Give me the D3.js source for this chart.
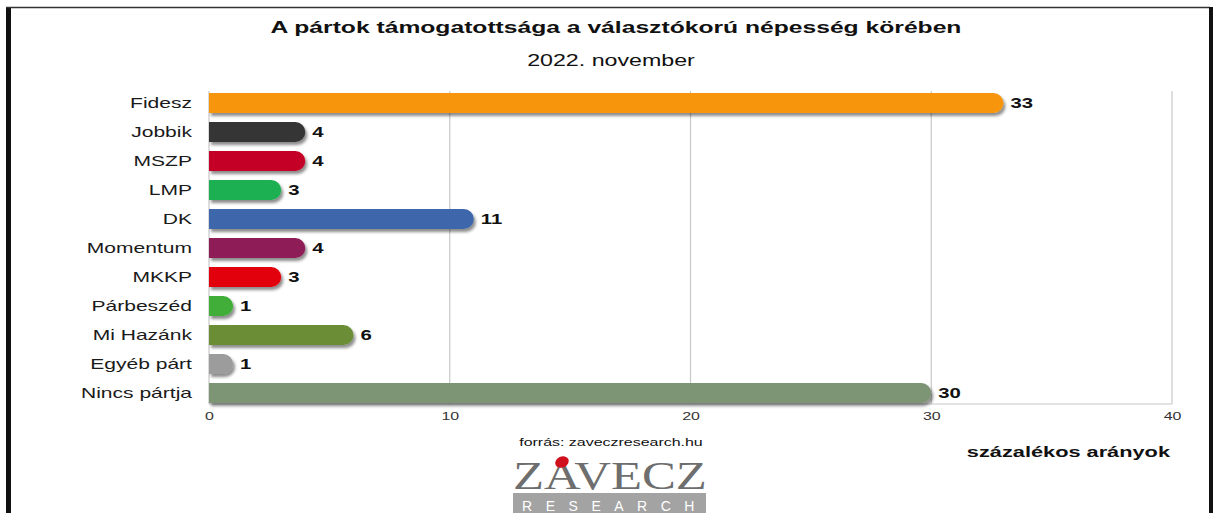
<!DOCTYPE html>
<html>
<head>
<meta charset="utf-8">
<script src="https://cdn.jsdelivr.net/npm/d3@7"></script>
<style>
  body { margin: 0; background: #ffffff; }
</style>
</head>
<body>
<script>
var chartWidth = 1213;
var chartHeight = 513;

// data
var parties = ["Fidesz", "Jobbik", "MSZP", "LMP", "DK", "Momentum", "MKKP", "Párbeszéd", "Mi Hazánk", "Egyéb párt", "Nincs pártja"];
var support = [33, 4, 4, 3, 11, 4, 3, 1, 6, 1, 30];
var partyColors = ["#f7960c", "#353535", "#c40028", "#1fb052", "#3d66ab", "#8e1d57", "#e3060f", "#3fae37", "#6b8d36", "#9c9c9c", "#7d9475"];
var xTicks = [0, 10, 20, 30, 40];

var rows = parties.map(function(p, i) {
    return { party: p, value: support[i], color: partyColors[i] };
});

var sans = "\"Liberation Sans\", Arial, sans-serif";
// the source image is stretched sideways, so text is widened to match
var stretchX = 1.45;

var svg = d3.select("body")
    .append("svg")
    .attr("width", chartWidth)
    .attr("height", chartHeight)
    .attr("font-family", sans)
    .style("display", "block");

var defs = svg.append("defs");
var shadow = defs.append("filter")
    .attr("id", "shadow")
    .attr("x", "-10%").attr("y", "-40%")
    .attr("width", "130%").attr("height", "200%");
shadow.append("feDropShadow")
    .attr("dx", 2).attr("dy", 3)
    .attr("stdDeviation", 1.8)
    .attr("flood-color", "#000")
    .attr("flood-opacity", 0.45);

// frame
svg.append("rect").attr("x", 6).attr("y", 7).attr("width", 5).attr("height", chartHeight).attr("fill", "#111");
svg.append("line").attr("x1", 6).attr("x2", 1210).attr("y1", 7.5).attr("y2", 7.5).attr("stroke", "#333").attr("stroke-width", 1.5);
svg.append("rect").attr("x", 1209).attr("y", 7).attr("width", 4).attr("height", chartHeight).attr("fill", "#111");

var x = d3.scaleLinear().domain([0, 40]).range([209, 1172]);
var y = d3.scaleBand().domain(parties).range([88.5, 407.5]).paddingInner(0.31).paddingOuter(0.155);

// grid
svg.append("g")
    .selectAll("line")
    .data(xTicks.slice(1))
    .join("line")
    .attr("x1", d => x(d)).attr("x2", d => x(d))
    .attr("y1", 91).attr("y2", 404)
    .attr("stroke", "#c8c8c8")
    .attr("stroke-width", 1.2);

svg.append("line")
    .attr("x1", x(0)).attr("x2", x(40))
    .attr("y1", 404).attr("y2", 404)
    .attr("stroke", "#c8c8c8").attr("stroke-width", 1.2);
svg.append("line")
    .attr("x1", x(0)).attr("x2", x(0))
    .attr("y1", 91).attr("y2", 404)
    .attr("stroke", "#c8c8c8").attr("stroke-width", 1.2);

// x axis labels
var xAxis = svg.append("g")
    .attr("transform", "translate(0,404)")
    .call(d3.axisBottom(x).tickValues(xTicks).tickSize(0).tickPadding(8));
xAxis.select(".domain").remove();
xAxis.attr("font-family", sans);
xAxis.selectAll("text")
    .attr("font-size", 11)
    .attr("fill", "#333")
    .call(stretch, stretchX);

// bars: square left end, round right end
function barPath(d) {
    var x0 = x(0), x1 = x(d.value), h = y.bandwidth(), r = h / 2, top = y(d.party);
    var w = x1 - x0;
    var rr = Math.min(r, w);
    return "M" + x0 + "," + top +
        "H" + (x1 - rr) +
        "A" + rr + "," + r + " 0 0 1 " + (x1 - rr) + "," + (top + h) +
        "H" + x0 + "Z";
}

svg.append("g")
    .selectAll("path")
    .data(rows)
    .join("path")
    .attr("d", barPath)
    .attr("fill", d => d.color)
    .attr("filter", "url(#shadow)");

// category labels
svg.append("g")
    .selectAll("text")
    .data(rows)
    .join("text")
    .attr("x", 192)
    .attr("y", d => y(d.party) + y.bandwidth() / 2)
    .attr("dy", "0.36em")
    .attr("text-anchor", "end")
    .attr("font-size", 14.5)
    .attr("fill", "#1a1a1a")
    .text(d => d.party)
    .call(stretch, stretchX);

// value labels
svg.append("g")
    .selectAll("text")
    .data(rows)
    .join("text")
    .attr("x", d => x(d.value) + 7)
    .attr("y", d => y(d.party) + y.bandwidth() / 2)
    .attr("dy", "0.36em")
    .attr("font-size", 14)
    .attr("font-weight", "bold")
    .attr("fill", "#111")
    .text(d => d.value)
    .call(stretch, stretchX);

// titles
svg.append("text")
    .attr("x", 616).attr("y", 33)
    .attr("text-anchor", "middle")
    .attr("font-size", 17)
    .attr("font-weight", "bold")
    .attr("fill", "#111")
    .text("A pártok támogatottsága a választókorú népesség körében")
    .call(stretch, stretchX);

svg.append("text")
    .attr("x", 611).attr("y", 66)
    .attr("text-anchor", "middle")
    .attr("font-size", 16)
    .attr("fill", "#111")
    .text("2022. november")
    .call(stretch, stretchX);

svg.append("text")
    .attr("x", 611).attr("y", 446)
    .attr("text-anchor", "middle")
    .attr("font-size", 11)
    .attr("fill", "#111")
    .text("forrás: zaveczresearch.hu")
    .call(stretch, stretchX);

svg.append("text")
    .attr("x", 1170).attr("y", 457)
    .attr("text-anchor", "end")
    .attr("font-size", 15)
    .attr("font-weight", "bold")
    .attr("fill", "#111")
    .text("százalékos arányok")
    .call(stretch, stretchX);

// logo
var logo = svg.append("g");
logo.append("text")
    .attr("x", 610).attr("y", 489)
    .attr("text-anchor", "middle")
    .attr("font-family", "\"Liberation Serif\", \"Times New Roman\", serif")
    .attr("font-size", 40)
    .attr("fill", "#6e6e6e")
    .text("ZAVECZ")
    .call(stretch, 1.27);
logo.append("ellipse")
    .attr("cx", 562).attr("cy", 462)
    .attr("rx", 7).attr("ry", 5.5)
    .attr("transform", "rotate(-25,562,462)")
    .attr("fill", "#d0101c");
logo.append("rect")
    .attr("x", 513).attr("y", 493)
    .attr("width", 193).attr("height", 20)
    .attr("fill", "#a3a3a3");
logo.append("text")
    .attr("x", 615).attr("y", 511)
    .attr("text-anchor", "middle")
    .attr("font-size", 14)
    .attr("letter-spacing", 13.5)
    .attr("fill", "#ffffff")
    .text("RESEARCH");

function stretch(sel, k) {
    sel.each(function() {
        var t = d3.select(this);
        var w = this.getComputedTextLength();
        t.attr("textLength", w * k).attr("lengthAdjust", "spacingAndGlyphs");
    });
}
</script>
</body>
</html>
